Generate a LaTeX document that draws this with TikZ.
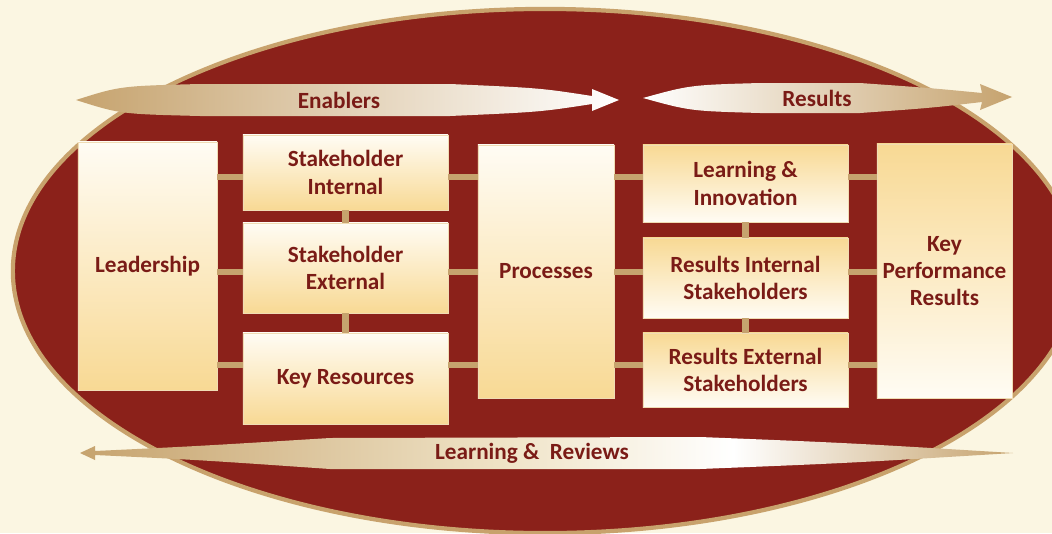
\documentclass[tikz,border=0pt]{standalone}
\usepackage{fontspec}
\setmainfont{Carlito}

\definecolor{bgcream}{RGB}{251,246,226}
\definecolor{ellred}{RGB}{139,33,26}
\definecolor{elltan}{RGB}{200,162,108}
\definecolor{boxgold}{RGB}{248,217,148}
\definecolor{boxwhite}{RGB}{255,252,244}
\definecolor{boxline}{RGB}{240,220,180}
\definecolor{txtred}{RGB}{122,27,22}
\definecolor{bantan}{RGB}{198,163,110}
\definecolor{banlight}{RGB}{240,228,200}

\pgfdeclarehorizontalshading{reviewshade}{100bp}{color(0bp)=(bantan); color(25bp)=(bantan);
  color(48bp)=(banlight); color(60bp)=(white); color(75bp)=(bantan); color(100bp)=(bantan)}

\begin{document}
\begin{tikzpicture}[x=0.025cm,y=-0.025cm,
  box/.style={draw=boxline,line width=0.5pt,top color=boxwhite,bottom color=boxgold,
    text=txtred,align=center,inner sep=0pt,font=\bfseries\fontsize{16.5}{19.5}\selectfont},
  rbox/.style={box,top color=boxgold,bottom color=boxwhite},
  link/.style={draw=bantan,line width=4.5pt},
  bantext/.style={text=txtred,font=\bfseries\fontsize{16.5}{19.5}\selectfont}]

 \useasboundingbox (0,0) rectangle (1052,533);
 \clip (0,0) rectangle (1052,533);
 \fill[bgcream] (0,0) rectangle (1052,533);

 % the big oval
 \filldraw[fill=ellred,draw=elltan,line width=3pt] (545,271) ellipse [x radius=13.3cm,y radius=6.55cm];

 % banners
 \shade[left color=bantan,right color=white]
   (76,100) .. controls (120,86) .. (200,84) -- (450,84) .. controls (540,88) .. (592,96)
   -- (592,89) -- (619,100) -- (592,111) -- (592,104)
   .. controls (540,112) .. (450,116) -- (200,116) .. controls (120,114) .. cycle;
 \shade[left color=white,right color=bantan]
   (643,98) .. controls (690,85) .. (760,83) -- (860,83) .. controls (930,88) .. (982,93)
   -- (980,84) -- (1012,97) -- (980,110) -- (982,102)
   .. controls (930,108) .. (860,113) -- (760,113) .. controls (690,111) .. cycle;
 \shade[shading=reviewshade]
   (80,453) -- (95,446) -- (95,451) .. controls (200,446) .. (330,438) -- (700,437)
   .. controls (850,443) .. (1013,453) .. controls (850,463) .. (700,469) -- (330,469)
   .. controls (200,460) .. (95,455) -- (95,460) -- cycle;

 \node[bantext] (enab) at (339,100) {Enablers};
 \node[bantext] (res) at (817,98) {Results};
 \node[bantext] (rev) at (532,453) {Learning \& \ Reviews};

 % boxes
 \node[box,minimum width=3.475cm,minimum height=6.2cm] (lead) at (147.5,266) {Leadership};
 \node[box,minimum width=5.125cm,minimum height=1.875cm] (si) at (345.5,172.5) {Stakeholder\\Internal};
 \node[box,minimum width=5.125cm,minimum height=2.25cm] (se) at (345.5,268) {Stakeholder\\External};
 \node[box,minimum width=5.125cm,minimum height=2.275cm] (kr) at (345.5,378.5) {Key Resources};
 \node[box,minimum width=3.4cm,minimum height=6.325cm] (proc) at (546,271.5) {Processes};
 \node[rbox,minimum width=5.125cm,minimum height=1.925cm] (li) at (745.5,183.5) {Learning \&\\Innovation};
 \node[rbox,minimum width=5.125cm,minimum height=2cm] (ri) at (745.5,278) {Results Internal\\Stakeholders};
 \node[rbox,minimum width=5.125cm,minimum height=1.85cm] (re) at (745.5,370) {Results External\\Stakeholders};
 \node[rbox,minimum width=3.375cm,minimum height=6.35cm] (kpr) at (944.5,271) {Key\\Performance\\Results};

 \coordinate (row1) at (0,177);
 \coordinate (row2) at (0,272);
 \coordinate (row3) at (0,365);

 % links
 \draw[link] (lead.east |- row1) -- (si.west |- row1);
 \draw[link] (lead.east |- row2) -- (se.west |- row2);
 \draw[link] (lead.east |- row3) -- (kr.west |- row3);
 \draw[link] (si.east |- row1) -- (proc.west |- row1);
 \draw[link] (se.east |- row2) -- (proc.west |- row2);
 \draw[link] (kr.east |- row3) -- (proc.west |- row3);
 \draw[link] (proc.east |- row1) -- (li.west |- row1);
 \draw[link] (proc.east |- row2) -- (ri.west |- row2);
 \draw[link] (proc.east |- row3) -- (re.west |- row3);
 \draw[link] (li.east |- row1) -- (kpr.west |- row1);
 \draw[link] (ri.east |- row2) -- (kpr.west |- row2);
 \draw[link] (re.east |- row3) -- (kpr.west |- row3);
 \draw[link] (si) -- (se);
 \draw[link] (se) -- (kr);
 \draw[link] (li) -- (ri);
 \draw[link] (ri) -- (re);

\end{tikzpicture}
\end{document}
